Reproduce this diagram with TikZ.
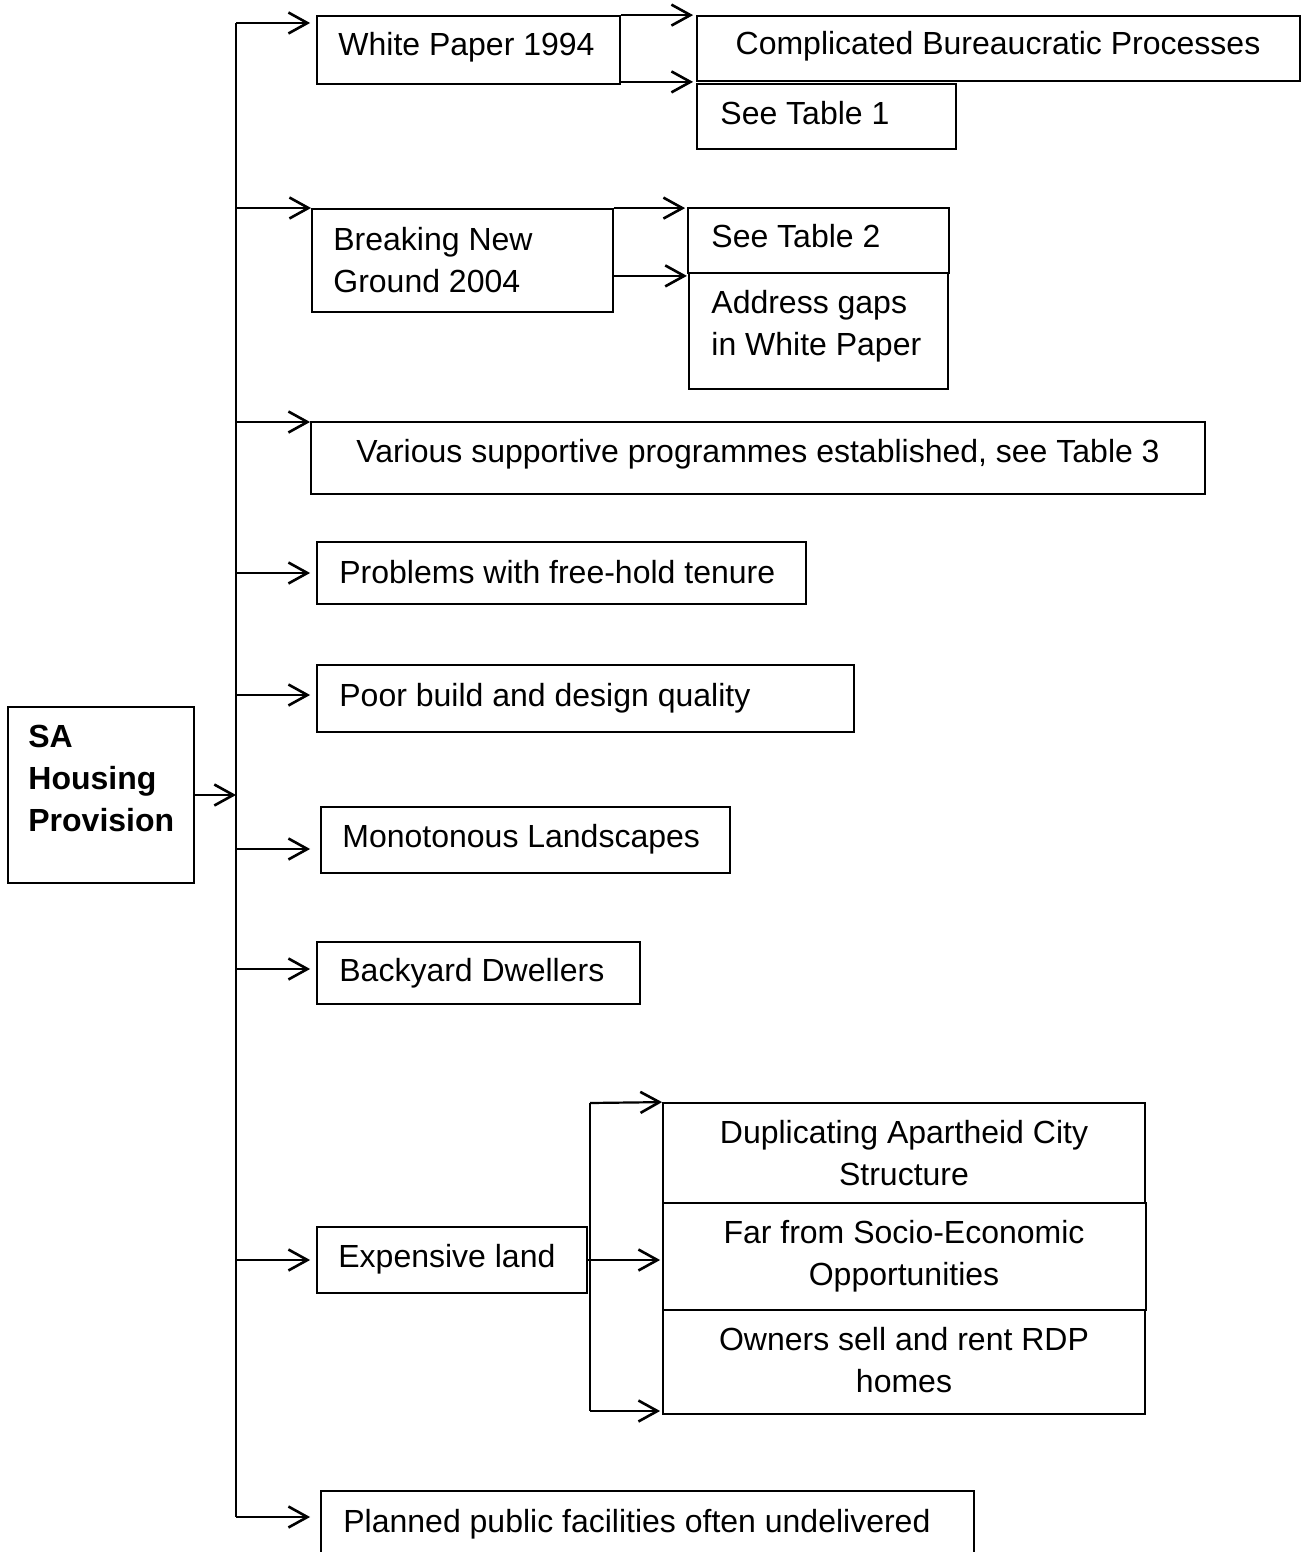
\documentclass[tikz,border=0pt]{standalone}
\usepackage{fontspec}
\setmainfont{Liberation Sans}
\usetikzlibrary{arrows.meta}
\tikzset{
  boxst/.style={draw, line width=0.9pt, inner sep=0pt, rectangle},
  lnk/.style={line width=0.8pt},
  arr/.style={line width=1.1pt, -{Straight Barb[length=9.5pt,width=10.5pt,line width=1.3pt]}},
  txt/.style={inner sep=0pt, anchor=base west, font=\fontsize{16}{21}\selectfont},
  ctxt/.style={inner sep=0pt, anchor=base, font=\fontsize{16}{21}\selectfont},
  btxt/.style={inner sep=0pt, anchor=base west, font=\fontsize{16}{21}\selectfont\bfseries}
}
\newcommand\bx[5]{\node[boxst, minimum width={(#4-#2)*0.5pt}, minimum height={(#5-#3)*0.5pt}] (#1) at ({(#2+#4)/2},{(#3+#5)/2}) {};}
\begin{document}
\begin{tikzpicture}[x=0.5pt,y=-0.5pt]
\useasboundingbox (0,0) rectangle (1301,1552);
% boxes
\bx{wp}{317}{16}{620}{84}
\bx{cbp}{697}{16}{1300}{81}
\bx{st1}{697}{84}{956}{149}
\bx{bng}{312}{209}{613}{312}
\bx{st2}{688}{208}{949}{273}
\bx{ag}{689}{273}{948}{389}
\bx{var}{311}{422}{1205}{494}
\bx{prob}{317}{542}{806}{604}
\bx{poor}{317}{665}{854}{732}
\node[boxst, line width=0.7pt, minimum width={186*0.5pt}, minimum height={176*0.5pt}] (sa) at (101,795) {};
\bx{mono}{321}{807}{730}{873}
\bx{back}{317}{942}{640}{1004}
\bx{el}{317}{1227}{587}{1293}
\bx{dup}{663}{1103}{1145}{1203}
\bx{far}{663}{1203}{1146}{1310}
\bx{own}{663}{1310}{1145}{1414}
\bx{plan}{321}{1491}{974}{1570}
% texts
\node[txt] (t-wp) at (338,56) {White Paper 1994};
\node[ctxt] (t-cbp) at (998,55) {Complicated Bureaucratic Processes};
\node[txt] (t-st1) at (720,125) {See Table 1};
\node[txt] (t-bng1) at (333,250) {Breaking New};
\node[txt] (t-bng2) at (333,292) {Ground 2004};
\node[txt] (t-st2) at (711,247) {See Table 2};
\node[txt] (t-ag1) at (711,313) {Address gaps};
\node[txt] (t-ag2) at (711,355) {in White Paper};
\node[ctxt] (t-var) at (758,462) {Various supportive programmes established, see Table 3};
\node[txt] (t-prob) at (339,583) {Problems with free-hold tenure};
\node[txt] (t-poor) at (339,706) {Poor build and design quality};
\node[btxt] (t-sa1) at (28,747) {SA};
\node[btxt] (t-sa2) at (28,789) {Housing};
\node[btxt] (t-sa3) at (28,831) {Provision};
\node[txt] (t-mono) at (342,847) {Monotonous Landscapes};
\node[txt] (t-back) at (339,981) {Backyard Dwellers};
\node[txt] (t-el) at (338,1267) {Expensive land};
\node[ctxt] (t-dup1) at (904,1143) {Duplicating Apartheid City};
\node[ctxt] (t-dup2) at (904,1185) {Structure};
\node[ctxt] (t-far1) at (904,1243) {Far from Socio-Economic};
\node[ctxt] (t-far2) at (904,1285) {Opportunities};
\node[ctxt] (t-own1) at (904,1350) {Owners sell and rent RDP};
\node[ctxt] (t-own2) at (904,1392) {homes};
\node[txt] (t-plan) at (343,1532) {Planned public facilities often undelivered};
% main spine
\coordinate (b1) at (236,23);
\coordinate (b2) at (236,208);
\coordinate (b3) at (236,422);
\coordinate (b4) at (236,573);
\coordinate (b5) at (236,695);
\coordinate (b6) at (236,849);
\coordinate (b7) at (236,969);
\coordinate (b8) at (236,1260);
\coordinate (b9) at (236,1517);
\draw[lnk] (b1) -- (b9);
\draw[arr] (sa.east) -- (sa.east -| b1);
\draw[arr, shorten >=3pt] (b1) -- (b1 -| wp.west);
\draw[arr] (b2) -- (b2 -| bng.west);
\draw[arr] (b3) -- (b3 -| var.west);
\draw[arr, shorten >=3pt] (b4) -- (b4 -| prob.west);
\draw[arr, shorten >=3pt] (b5) -- (b5 -| poor.west);
\draw[arr, shorten >=5pt] (b6) -- (b6 -| mono.west);
\draw[arr, shorten >=3pt] (b7) -- (b7 -| back.west);
\draw[arr, shorten >=3pt] (b8) -- (b8 -| el.west);
\draw[arr, shorten >=5pt] (b9) -- (b9 -| plan.west);
% white paper branches
\draw[arr, shorten >=1.5pt] (wp.north east) -- (wp.north east -| cbp.west);
\draw[arr, shorten >=1.5pt] (cbp.south west -| wp.east) -- (cbp.south west);
% BNG branches
\draw[arr, shorten >=1pt] (bng.north east) -- (bng.north east -| st2.west);
\draw[arr, shorten >=1pt] (st2.south west -| bng.east) ++(0,2) -- ++(75,0);
% expensive land branches
\coordinate (jt) at (590,1103);
\coordinate (jb) at (590,1411);
\draw[lnk] (jt) -- (jb);
\draw[arr] (jt) -- (dup.north west);
\draw[arr, shorten >=1pt] (el.east) -- (el.east -| far.west);
\draw[arr, shorten >=1pt] (jb) -- (jb -| own.west);
\end{tikzpicture}
\end{document}
